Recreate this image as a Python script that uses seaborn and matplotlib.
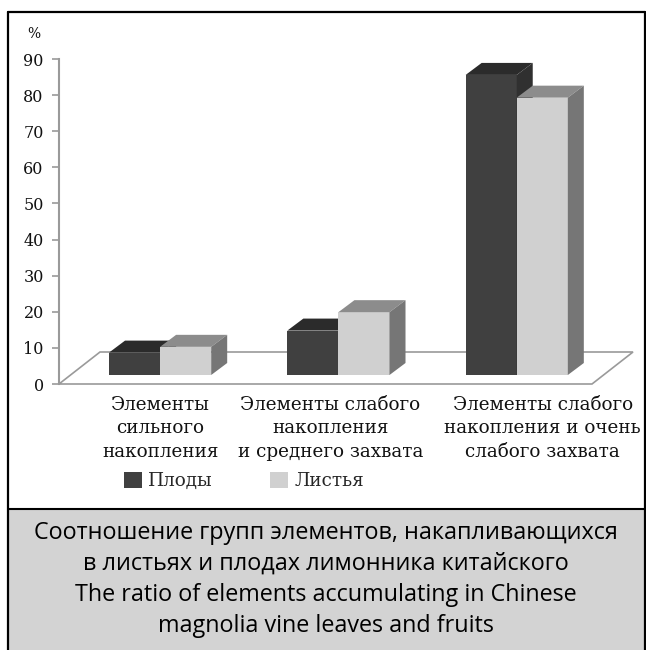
import numpy as np
import pandas as pd
import matplotlib
matplotlib.use("Agg")
import matplotlib.pyplot as plt
import matplotlib.transforms as mtransforms
from matplotlib.patches import Polygon, Rectangle
import seaborn as sns

# ---- data ----
categories = ["Элементы\nсильного\nнакопления",
              "Элементы слабого\nнакопления\nи среднего захвата",
              "Элементы слабого\nнакопления и очень\nслабого захвата"]
series = ["Плоды", "Листья"]
fruits = [6.2, 12.3, 83.1]
leaves = [7.8, 17.4, 76.8]
yticks = [0, 10, 20, 30, 40, 50, 60, 70, 80, 90]
caption = ["Соотношение групп элементов, накапливающихся",
           "в листьях и плодах лимонника китайского",
           "The ratio of elements accumulating in Chinese",
           "magnolia vine leaves and fruits"]

df = pd.DataFrame({
    "cat": categories * 2,
    "series": [series[0]] * 3 + [series[1]] * 3,
    "val": fruits + leaves,
})

W, H = 646, 650
DPI = 100
sns.set_theme(style="white")
plt.rcParams["font.family"] = ["DejaVu Serif"]

fig = plt.figure(figsize=(W / DPI, H / DPI), dpi=DPI)
fig.patch.set_facecolor("white")

def fx(px):
    return px / W
def fy(py):
    return 1 - py / H

ax_l, ax_r, ax_t, ax_b = 59, 633, 59, 384
ax = fig.add_axes([fx(ax_l), fy(ax_b), fx(ax_r - ax_l), (ax_b - ax_t) / H])
ax.set_facecolor("none")

dark_front, dark_top, dark_side = "#404040", "#2b2b2b", "#303030"
light_front, light_top, light_side = "#d0d0d0", "#8c8c8c", "#767676"

sns.barplot(data=df, x="cat", y="val", hue="series", palette=[dark_front, light_front],
            width=0.573, saturation=1, ax=ax, legend=False, linewidth=0)

ax.set_ylim(0, 90)
ax.set_xlim(-0.567, 2.652)
ax.set_yticks(yticks)
ax.set_yticklabels([str(v) for v in yticks], fontsize=11.5, color="#111111")
ax.tick_params(axis="y", length=5, width=1.2, color="#9a9a9a", pad=6, left=True)
ax.tick_params(axis="x", length=0, bottom=False, labelbottom=False)
ax.set_xlabel("")
ax.set_ylabel("")
for s in ["top", "right", "bottom"]:
    ax.spines[s].set_visible(False)
ax.spines["left"].set_color("#9a9a9a")
ax.spines["left"].set_linewidth(1.5)

# ---- pseudo-3D ----
bar_dy_px = 9
depth_dx, depth_dy = 16, 12
floor_dx, floor_dy = 41, 32
off = mtransforms.offset_copy(ax.transData, fig=fig, x=0, y=bar_dy_px * 72 / DPI, units="points")
ident = mtransforms.IdentityTransform()

fl0 = ax.transAxes.transform((0, 0))
fr1 = ax.transAxes.transform((1, 0))
floor = [(fl0[0], fl0[1]), (fr1[0] - floor_dx, fr1[1]),
         (fr1[0], fr1[1] + floor_dy), (fl0[0] + floor_dx, fl0[1] + floor_dy)]
ax.add_patch(Polygon(floor, closed=True, transform=ident, facecolor="none",
                     edgecolor="#9a9a9a", linewidth=1.2, zorder=1, clip_on=False))

faces = [(dark_top, dark_side), (light_top, light_side)]
for k, (cont, (tc, sc)) in enumerate(zip(ax.containers, faces)):
    z = 3 + 2 * k
    for bar in cont:
        bar.set_transform(off)
        bar.set_zorder(z)
        bar.set_clip_on(False)
        x0, y0 = off.transform((bar.get_x(), 0))
        x1, y1 = off.transform((bar.get_x() + bar.get_width(), bar.get_height()))
        top = [(x0, y1), (x1, y1), (x1 + depth_dx, y1 + depth_dy), (x0 + depth_dx, y1 + depth_dy)]
        side = [(x1, y0), (x1 + depth_dx, y0 + depth_dy), (x1 + depth_dx, y1 + depth_dy), (x1, y1)]
        ax.add_patch(Polygon(top, closed=True, transform=ident, facecolor=tc,
                             edgecolor="none", zorder=z, clip_on=False))
        ax.add_patch(Polygon(side, closed=True, transform=ident, facecolor=sc,
                             edgecolor="none", zorder=z, clip_on=False))

# category labels
label_shift = [0, -8, 26]
for i, (lab, sh) in enumerate(zip(categories, label_shift)):
    tr = mtransforms.offset_copy(ax.get_xaxis_transform(), fig=fig, x=sh * 72 / DPI,
                                 y=-12 * 72 / DPI, units="points")
    ax.text(i, 0, lab, transform=tr, ha="center", va="top", fontsize=13.2,
            family=["DejaVu Serif"], linespacing=1.38, color="#111111")

# % label
fig.text(fx(34), fy(34), "%", ha="center", va="center", fontsize=10, color="#111111")

# legend
handles = [Rectangle((0, 0), 1, 1, facecolor=dark_front, edgecolor="none"),
           Rectangle((0, 0), 1, 1, facecolor=light_front, edgecolor="none")]
fig.legend(handles, series, loc="center left", bbox_to_anchor=(fx(107), fy(481)), ncol=2,
           frameon=False, handlelength=1.0, handleheight=1.0, handletextpad=0.35,
           columnspacing=3.1, prop={"family": "DejaVu Serif", "size": 13.2})

# caption box
cap_top = 509
fig.patches.append(Rectangle((0, 0), 1, fy(cap_top), transform=fig.transFigure,
                             facecolor="#d3d3d3", edgecolor="none", zorder=0))
fig.lines.append(plt.Line2D([fx(8), 1], [fy(cap_top), fy(cap_top)], transform=fig.transFigure,
                            color="black", linewidth=1.5))
cap_y = [533, 564, 595, 626]
for line, yy in zip(caption, cap_y):
    fig.text(fx(326), fy(yy), line, ha="center", va="center", fontsize=16.8,
             family=["Open Sans", "DejaVu Sans"], color="black")

# outer frame (left, top, right)
fig.lines.append(plt.Line2D([fx(8), fx(8)], [0, fy(12)], transform=fig.transFigure,
                            color="black", linewidth=1.6))
fig.lines.append(plt.Line2D([fx(8), fx(645)], [fy(12), fy(12)], transform=fig.transFigure,
                            color="black", linewidth=1.6))
fig.lines.append(plt.Line2D([fx(645), fx(645)], [0, fy(12)], transform=fig.transFigure,
                            color="black", linewidth=1.6))
fig.patches.append(Rectangle((0, 0), fx(7.2), 1, transform=fig.transFigure,
                             facecolor="white", edgecolor="none", zorder=1))

fig.savefig("out.png", dpi=DPI)
